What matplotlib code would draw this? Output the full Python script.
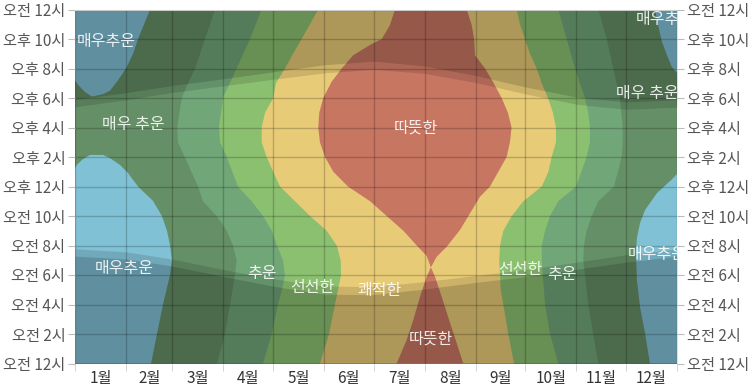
import matplotlib
matplotlib.use('Agg')
import matplotlib.pyplot as plt
import numpy as np

plt.rcParams['font.family'] = ['Noto Sans CJK KR', 'DejaVu Sans']

months = ['1월', '2월', '3월', '4월', '5월', '6월', '7월', '8월', '9월', '10월', '11월', '12월']
month_start = [0, 31, 59, 90, 120, 151, 181, 212, 243, 273, 304, 334, 365]
hour_ticks = list(range(0, 25, 2))
hour_labels = ['오전 12시', '오전 2시', '오전 4시', '오전 6시', '오전 8시', '오전 10시',
               '오후 12시', '오후 2시', '오후 4시', '오후 6시', '오후 8시', '오후 10시', '오전 12시']

# sun times on the 1st of each month (hours)
sunrise = [7.78, 7.57, 7.08, 6.37, 5.75, 5.25, 5.22, 5.55, 5.97, 6.37, 6.87, 7.37, 7.78]
sunset = [17.4, 17.88, 18.38, 18.83, 19.27, 19.7, 19.95, 19.67, 19.05, 18.28, 17.58, 17.23, 17.38]
dawn = [7.28, 7.09, 6.61, 5.9, 5.25, 4.7, 4.67, 5.05, 5.5, 5.9, 6.39, 6.87, 7.28]
dusk = [17.9, 18.36, 18.85, 19.3, 19.77, 20.25, 20.5, 20.17, 19.52, 18.75, 18.06, 17.73, 17.88]

# day of year where the temperature crosses each band edge, per hour
t7_left_h = [0, 2, 4, 6, 7, 8, 9, 10, 11, 12, 14, 15, 16, 18, 19, 20, 22, 24]
t7_left_d = [86.1, 90.9, 94.0, 97.0, 98.0, 95.8, 92.0, 85.9, 77.6, 74.6, 66.5, 62.4, 62.0, 64.7, 68.5, 72.8, 78.8, 84.9]
t7_right_h = [0, 2, 4, 6, 7, 8, 9, 10, 11, 12, 14, 15, 16, 18, 20, 22, 24]
t7_right_d = [317.3, 314.2, 311.2, 309.2, 308.2, 308.6, 310.2, 313.3, 317.3, 326.8, 331.5, 332.1, 332.1, 330.4, 326.4, 322.4, 317.3]

t13_left_h = [0, 2, 4, 5, 6, 7, 8, 9, 10, 11, 12, 14, 15, 16, 18, 20, 22, 24]
t13_left_d = [114.0, 119.3, 123.1, 125.5, 127.3, 126.1, 122.5, 119.3, 114.0, 107.1, 98.8, 92.0, 87.9, 87.3, 89.7, 98.0, 106.1, 113.2]
t13_right_h = [0, 2, 4, 6, 7, 8, 9, 10, 11, 12, 14, 15, 16, 17, 18, 19, 20, 22, 24]
t13_right_d = [293.0, 288.0, 285.0, 283.6, 283.0, 283.0, 285.0, 288.0, 293.0, 303.8, 310.2, 312.2, 312.2, 311.2, 309.2, 306.2, 303.2, 298.1, 293.0]

t18_left_h = [0, 2, 4, 5, 6, 7, 8, 9, 10, 11, 12, 13, 14, 15, 16, 17, 18, 19, 20, 21, 22, 24]
t18_left_d = [148.5, 154.0, 157.6, 159.5, 161.3, 161.1, 158.7, 152.6, 142.5, 133.4, 124.3, 120.2, 116.2, 113.2,
              113.2, 115.2, 120.2, 121.8, 127.3, 132.2, 137.4, 147.5]
t18_right_h = [0, 2, 4, 5, 6, 7, 8, 9, 10, 11, 12, 13, 14, 15, 16, 17, 18, 19, 20, 21, 22, 23, 24]
t18_right_d = [266.2, 262.7, 259.7, 258.1, 257.7, 257.2, 257.7, 259.7, 264.8, 271.8, 283.0, 287.0, 289.0, 291.6,
               291.6, 289.8, 286.8, 283.0, 279.9, 275.9, 272.8, 269.8, 267.8]

t24_left_h = [0, 1.59, 2.95, 4.53, 5.88, 6.52, 7.3, 8, 9, 10, 11, 12, 13, 14, 15, 16, 17, 18, 19.1, 20,
              20.9, 21.6, 22, 22.95, 24]
t24_left_d = [195.0, 201.1, 205.1, 209.2, 213.2, 215.8, 213.2, 207.2, 199.1, 189.0, 178.9, 165.5, 156.6, 151.6,
              148.5, 147.5, 148.1, 150.5, 155.6, 161.7, 168.7, 178.9, 186.0, 191.0, 194.0]
t24_right_h = [0, 1.39, 2.75, 4.53, 5.88, 6.52, 7.24, 7.92, 9.05, 10.18, 11.3, 12, 14, 15, 16, 17, 18, 19.1,
               20, 20.9, 22, 22.95, 24]
t24_right_d = [235.4, 231.4, 227.4, 222.3, 218.3, 215.8, 219.3, 225.4, 233.4, 239.5, 245.5, 251.6, 261.7, 263.7,
               264.7, 262.5, 258.7, 253.4, 248.6, 242.5, 242.0, 240.5, 237.5]

# below-freezing patches (outline in day, hour)
frz_tl_d = [0, 45.5, 38.2, 35.2, 30.9, 26.1, 21.2, 17.0, 10.3, 6.1, 1.8, 0]
frz_tl_h = [24, 24, 22, 21, 20.0, 19.2, 18.5, 18.26, 18.1, 18.4, 18.9, 19.2]
frz_bl_d = [0, 1.0, 4.9, 9.1, 17.0, 21.2, 27.3, 32.1, 38.2, 47.3, 52.7, 55.8, 57.6, 58.8, 57.6, 53.4, 49.7, 46.1, 0]
frz_bl_h = [13.25, 13.46, 13.86, 14.14, 14.14, 13.93, 13.46, 12.92, 12.0, 11.02, 10.0, 8.98, 8.03, 7.02, 6.0,
            4.03, 2.0, 0, 0]
frz_br_d = [365, 361.5, 352.9, 345.6, 342.6, 340.7, 340.1, 340.7, 342.6, 345.6, 348.6, 365]
frz_br_h = [12.85, 12.44, 11.56, 10.4, 9.53, 8.51, 7.49, 5.66, 3.83, 2.07, 0, 0]
frz_tr_d = [351.7, 353.5, 355.9, 358.9, 361.9, 365, 365]
frz_tr_h = [24, 22.95, 21.8, 20.9, 20.1, 19.7, 24]

labels = ['매우추운', '매우 추운', '매우추운', '추운', '선선한', '쾌적한', '따뜻한', '따뜻한', '선선한', '추운']
label_d = [18.8, 35.2, 29.7, 113.4, 143.7, 184.9, 215.8, 206.7, 269.8, 295.3]
label_h = [21.86, 16.17, 6.47, 6.07, 5.12, 4.98, 1.66, 15.97, 6.34, 6.0]
edge_labels = ['매우추운', '매우 추운', '매우추운']
edge_d = [335.3, 328.0, 340.1]
edge_h = [7.42, 18.33, 23.29]

c_freezing = '#81c1d6'
c_verycold = '#658f66'
c_cold = '#71a679'
c_cool = '#8cc071'
c_comfort = '#e8cb77'
c_warm = '#c77662'


def band(ax, lh, ld, rh, rd, color):
    xs = np.r_[ld, rd[::-1]]
    ys = np.r_[lh, rh[::-1]]
    ax.fill(xs, ys, color=color, lw=0)


fig = plt.figure(figsize=(7.53, 3.87), dpi=100)
ax = fig.add_axes([75 / 753, 23.5 / 387, 602 / 753, 354 / 387])
ax.set_facecolor(c_verycold)

for d, h in [(frz_tl_d, frz_tl_h), (frz_bl_d, frz_bl_h), (frz_br_d, frz_br_h), (frz_tr_d, frz_tr_h)]:
    ax.fill(d, h, color=c_freezing, lw=0)
band(ax, t7_left_h, t7_left_d, t7_right_h, t7_right_d, c_cold)
band(ax, t13_left_h, t13_left_d, t13_right_h, t13_right_d, c_cool)
band(ax, t18_left_h, t18_left_d, t18_right_h, t18_right_d, c_comfort)
band(ax, t24_left_h, t24_left_d, t24_right_h, t24_right_d, c_warm)

ax.fill_between(month_start, 0, dawn, color='black', alpha=0.25, lw=0)
ax.fill_between(month_start, dawn, sunrise, color='black', alpha=0.12, lw=0)
ax.fill_between(month_start, sunset, dusk, color='black', alpha=0.12, lw=0)
ax.fill_between(month_start, dusk, 24, color='black', alpha=0.25, lw=0)

for t, d, h in zip(labels, label_d, label_h):
    ax.text(d, h, t, ha='center', va='center', color='white', alpha=0.88, fontsize=11.5)
for t, d, h in zip(edge_labels, edge_d, edge_h):
    ax.text(d, h, t, ha='left', va='center', color='white', alpha=0.88, fontsize=11.5, clip_on=True)

ax.set_xlim(0, 365)
ax.set_ylim(0, 24)
centers = [(a + b) / 2 for a, b in zip(month_start[:-1], month_start[1:])]
ax.set_xticks(centers)
ax.set_xticklabels(months)
ax.set_xticks(month_start, minor=True)
ax.set_yticks(hour_ticks)
ax.set_yticklabels(hour_labels)

ax.grid(which='minor', axis='x', color='black', alpha=0.2, lw=1)
ax.grid(which='major', axis='y', color='black', alpha=0.2, lw=1)
ax.tick_params(axis='x', which='major', length=0, pad=5, labelsize=11, labelcolor='#333333')
ax.tick_params(axis='x', which='minor', length=5, color='#cccccc')
ax.tick_params(axis='y', which='major', length=5, color='#bbbbbb', labelsize=11, labelcolor='#555555',
               right=True, labelright=True, pad=2)
for s in ['left', 'right', 'bottom']:
    ax.spines[s].set_visible(False)
ax.spines['top'].set_color('#cccccc')

fig.savefig('out.png', dpi=100)
